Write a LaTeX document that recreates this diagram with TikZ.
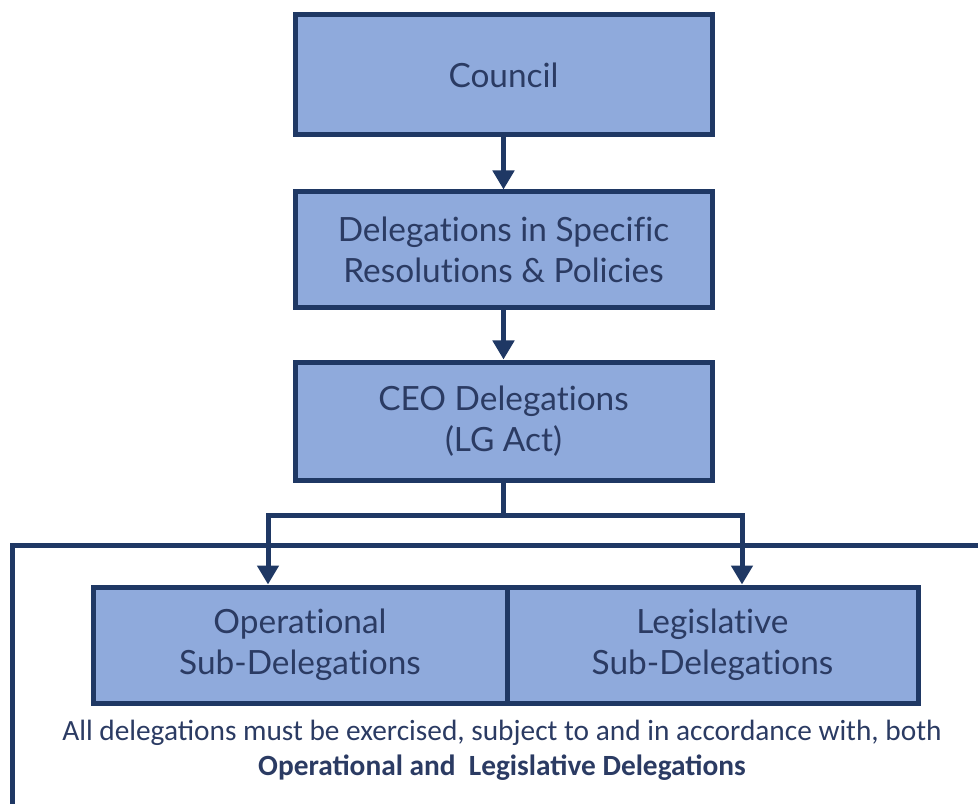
\documentclass[tikz,border=0pt]{standalone}
\usepackage{fontspec}
\setmainfont{Lato}[Ligatures=NoCommon]
\newfontfamily\notefont{Carlito}
\usetikzlibrary{arrows.meta,positioning}
\definecolor{navy}{HTML}{1F3864}
\definecolor{boxblue}{HTML}{8FAADC}
\definecolor{textnavy}{HTML}{2B3B63}
\begin{document}
\begin{tikzpicture}[line width=0.1cm, >={Triangle[width=0.42cm,length=0.38cm]},
  box node/.style={rectangle,draw=navy,fill=boxblue,text=textnavy,align=center,font=\fontsize{19}{23.5}\selectfont,inner sep=0pt}]
\useasboundingbox (0,0) rectangle (19.56,-16.08);
\begin{scope}[every node/.style={box node}]
\node[minimum width=8.34cm,minimum height=2.4cm] (council) at (10.07,-1.5) {Council};%top
\node[minimum width=8.34cm,minimum height=2.3cm] (spec) at (10.07,-4.99) {Delegations in Specific\\Resolutions \& Policies};
\node[minimum width=8.34cm,minimum height=2.36cm] (ceo) at (10.07,-8.42) {CEO Delegations\\(LG Act)};
\node[minimum width=8.28cm,minimum height=2.32cm] (oper) at (6.0,-12.9) {Operational\\Sub-Delegations};
\node[minimum width=8.22cm,minimum height=2.32cm] (legis) at (14.25,-12.9) {Legislative\\Sub-Delegations};
\end{scope}
\coordinate (jl) at (5.36,-10.3);
\coordinate (jr) at (14.84,-10.3);
\begin{scope}[draw=navy]
\draw[->] (council) -- (spec);
\draw[->] (spec) -- (ceo);
\draw[->] (ceo.south) |- (jl) -- (jl |- oper.north);
\draw[->] (ceo.south) |- (jr) -- (jr |- legis.north);
%outer frame
\draw (19.56,-10.9) -- (0.24,-10.9) -- (0.24,-16.08);
\end{scope}
\node[text=textnavy,font=\notefont\fontsize{16.7}{20}\selectfont,align=center] (note) at (10.04,-15.0) {All delegations must be exercised, subject to and in accordance with, both\\\textbf{Operational and\ \ Legislative Delegations}};
\end{tikzpicture}
\end{document}
